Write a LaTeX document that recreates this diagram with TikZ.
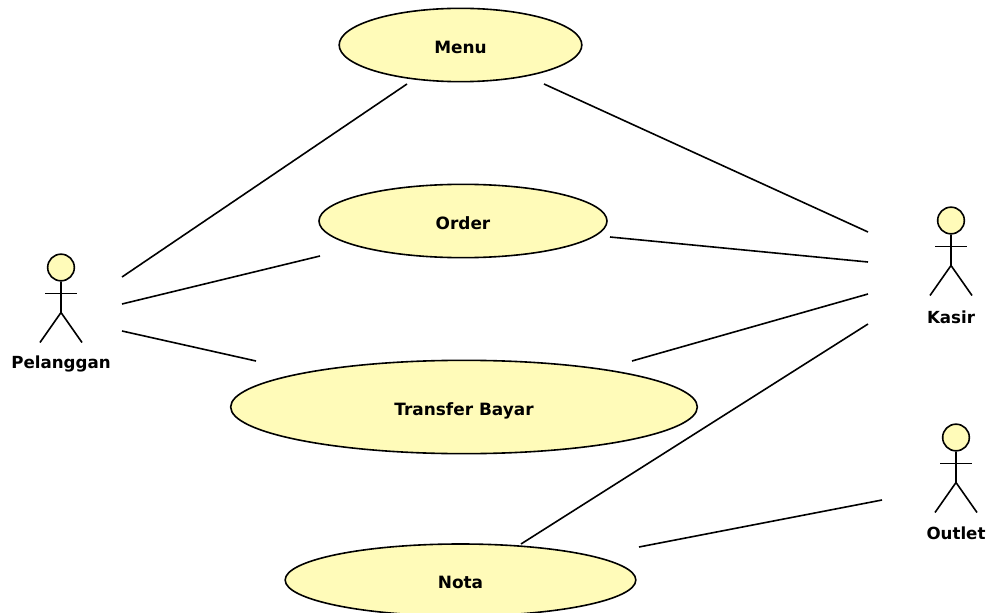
\documentclass[tikz,border=0pt]{standalone}
\usepackage{fontspec}
\setmainfont{DejaVu Sans}
\usetikzlibrary{shapes.geometric}
\definecolor{ucfill}{HTML}{FFFBB9}
\tikzset{
  usecase/.style={draw, ellipse, fill=ucfill, line width=1.2pt, inner sep=0pt, text height=13pt, text depth=0pt, font=\bfseries\fontsize{12.7}{14}\selectfont},
  head/.style={draw, circle, fill=ucfill, line width=1.2pt, inner sep=0pt, minimum size=20pt},
  actorname/.style={inner sep=0pt, font=\bfseries\fontsize{12.5}{14}\selectfont},
  link/.style={line width=1.2pt}
}
\begin{document}
\begin{tikzpicture}[x=0.75pt, y=-0.75pt]
\useasboundingbox (0,0) rectangle (989,613);
\node[usecase, minimum width=182pt, minimum height=55pt] (menu) at (460.5,45) {Menu};
\node[usecase, minimum width=216pt, minimum height=55pt] (order) at (463,221) {Order};
\node[usecase, minimum width=350pt, minimum height=70pt] (transfer) at (464,407) {Transfer Bayar};
\node[usecase, minimum width=263pt, minimum height=54pt] (nota) at (460.5,580) {Nota};

\foreach \name/\x/\y/\ytext/\xtext in {pelanggan/61/267.5/363.5/Pelanggan,kasir/951/220.5/317/Kasir,outlet/956/437.5/533/Outlet}
{
    \node[head] (\name) at (\x,\y) {};
    \draw[link] (\name.south)--(\x,\y+45)--(\x-21,\y+75);
    \draw[link] (\x,\y+45)--(\x+21,\y+75);
    \draw[link] (\x-16,\y+26)--(\x+16,\y+26);
    \node[actorname] (\name label) at (\x,\ytext) {\xtext};
}

% free ends of the connectors
\coordinate (pa) at (122,277);
\coordinate (pb) at (122,304);
\coordinate (pc) at (122,331);
\coordinate (ma) at (407,84);
\coordinate (mb) at (544,84);
\coordinate (oa) at (320,256);
\coordinate (ob) at (610,237);
\coordinate (ta) at (256,361);
\coordinate (tb) at (632,361);
\coordinate (na) at (521,544);
\coordinate (nb) at (639,547);
\coordinate (ka) at (868,232);
\coordinate (kb) at (868,262);
\coordinate (kc) at (868,294);
\coordinate (kd) at (868,324);
\coordinate (ua) at (882,500);

\foreach \from/\to in {pa/ma,pb/oa,pc/ta,ka/mb,kb/ob,kc/tb,kd/na,ua/nb}
{
    \draw[link] (\from)--(\to);
}
\end{tikzpicture}
\end{document}
